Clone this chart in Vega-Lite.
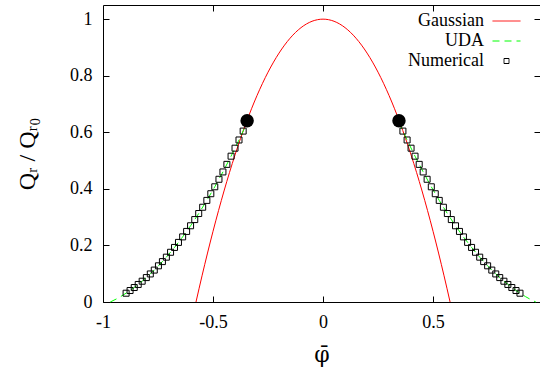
{
  "$schema": "https://vega.github.io/schema/vega-lite/v6.json",
  "width": 437,
  "height": 297,
  "autosize": {"type": "none"},
  "padding": {"left": 103, "top": 5, "right": 0, "bottom": 68},
  "background": "white",
  "config": {
    "font": "Liberation Serif",
    "view": {"stroke": "black", "strokeWidth": 1},
    "axis": {"grid": false, "domain": false, "tickColor": "black", "tickSize": -6, "labelFlush": false, "labelColor": "black", "labelFont": "Liberation Serif", "labelFontSize": 18, "labelPadding": 17, "titleFont": "Liberation Serif", "titleFontWeight": "normal", "titleColor": "black"}
  },
  "datasets": {
    "gauss": [
      {"p": -0.5774, "q": 0, "s": "Gaussian"}, {"p": -0.55, "q": 0.0925, "s": "Gaussian"}, {"p": -0.5, "q": 0.25, "s": "Gaussian"},
      {"p": -0.45, "q": 0.3925, "s": "Gaussian"}, {"p": -0.4, "q": 0.52, "s": "Gaussian"}, {"p": -0.35, "q": 0.6325, "s": "Gaussian"},
      {"p": -0.3, "q": 0.73, "s": "Gaussian"}, {"p": -0.25, "q": 0.8125, "s": "Gaussian"}, {"p": -0.2, "q": 0.88, "s": "Gaussian"},
      {"p": -0.15, "q": 0.9325, "s": "Gaussian"}, {"p": -0.1, "q": 0.97, "s": "Gaussian"}, {"p": -0.05, "q": 0.9925, "s": "Gaussian"},
      {"p": 0, "q": 1, "s": "Gaussian"},
      {"p": 0.05, "q": 0.9925, "s": "Gaussian"}, {"p": 0.1, "q": 0.97, "s": "Gaussian"}, {"p": 0.15, "q": 0.9325, "s": "Gaussian"},
      {"p": 0.2, "q": 0.88, "s": "Gaussian"}, {"p": 0.25, "q": 0.8125, "s": "Gaussian"}, {"p": 0.3, "q": 0.73, "s": "Gaussian"},
      {"p": 0.35, "q": 0.6325, "s": "Gaussian"}, {"p": 0.4, "q": 0.52, "s": "Gaussian"}, {"p": 0.45, "q": 0.3925, "s": "Gaussian"},
      {"p": 0.5, "q": 0.25, "s": "Gaussian"}, {"p": 0.55, "q": 0.0925, "s": "Gaussian"}, {"p": 0.5774, "q": 0, "s": "Gaussian"}
    ],
    "uda": [
      {"p": -0.967, "q": 0, "side": "L", "s": "UDA"}, {"p": -0.94, "q": 0.0104, "side": "L", "s": "UDA"}, {"p": -0.92, "q": 0.0191, "side": "L", "s": "UDA"},
      {"p": -0.895, "q": 0.0311, "side": "L", "s": "UDA"}, {"p": -0.858, "q": 0.0512, "side": "L", "s": "UDA"}, {"p": -0.822, "q": 0.0735, "side": "L", "s": "UDA"},
      {"p": -0.785, "q": 0.0992, "side": "L", "s": "UDA"}, {"p": -0.748, "q": 0.1279, "side": "L", "s": "UDA"}, {"p": -0.712, "q": 0.1585, "side": "L", "s": "UDA"},
      {"p": -0.675, "q": 0.1929, "side": "L", "s": "UDA"}, {"p": -0.638, "q": 0.2302, "side": "L", "s": "UDA"}, {"p": -0.602, "q": 0.2695, "side": "L", "s": "UDA"},
      {"p": -0.565, "q": 0.3128, "side": "L", "s": "UDA"}, {"p": -0.528, "q": 0.3592, "side": "L", "s": "UDA"}, {"p": -0.492, "q": 0.4073, "side": "L", "s": "UDA"},
      {"p": -0.455, "q": 0.4598, "side": "L", "s": "UDA"}, {"p": -0.418, "q": 0.5155, "side": "L", "s": "UDA"}, {"p": -0.382, "q": 0.5728, "side": "L", "s": "UDA"},
      {"p": -0.345, "q": 0.6349, "side": "L", "s": "UDA"},
      {"p": 0.345, "q": 0.6349, "side": "R", "s": "UDA"}, {"p": 0.382, "q": 0.5728, "side": "R", "s": "UDA"}, {"p": 0.418, "q": 0.5155, "side": "R", "s": "UDA"},
      {"p": 0.455, "q": 0.4598, "side": "R", "s": "UDA"}, {"p": 0.492, "q": 0.4073, "side": "R", "s": "UDA"}, {"p": 0.528, "q": 0.3592, "side": "R", "s": "UDA"},
      {"p": 0.565, "q": 0.3128, "side": "R", "s": "UDA"}, {"p": 0.602, "q": 0.2695, "side": "R", "s": "UDA"}, {"p": 0.638, "q": 0.2302, "side": "R", "s": "UDA"},
      {"p": 0.675, "q": 0.1929, "side": "R", "s": "UDA"}, {"p": 0.712, "q": 0.1585, "side": "R", "s": "UDA"}, {"p": 0.748, "q": 0.1279, "side": "R", "s": "UDA"},
      {"p": 0.785, "q": 0.0992, "side": "R", "s": "UDA"}, {"p": 0.822, "q": 0.0735, "side": "R", "s": "UDA"}, {"p": 0.858, "q": 0.0512, "side": "R", "s": "UDA"},
      {"p": 0.895, "q": 0.0311, "side": "R", "s": "UDA"}, {"p": 0.92, "q": 0.0191, "side": "R", "s": "UDA"}, {"p": 0.94, "q": 0.0104, "side": "R", "s": "UDA"},
      {"p": 0.967, "q": 0, "side": "R", "s": "UDA"}
    ],
    "num": [
      {"p": -0.895, "q": 0.0311, "s": "Numerical"}, {"p": -0.877, "q": 0.0406, "s": "Numerical"}, {"p": -0.858, "q": 0.0512, "s": "Numerical"},
      {"p": -0.84, "q": 0.062, "s": "Numerical"}, {"p": -0.822, "q": 0.0735, "s": "Numerical"}, {"p": -0.803, "q": 0.0863, "s": "Numerical"},
      {"p": -0.785, "q": 0.0992, "s": "Numerical"}, {"p": -0.767, "q": 0.1128, "s": "Numerical"}, {"p": -0.748, "q": 0.1279, "s": "Numerical"},
      {"p": -0.73, "q": 0.1428, "s": "Numerical"}, {"p": -0.712, "q": 0.1585, "s": "Numerical"}, {"p": -0.693, "q": 0.1758, "s": "Numerical"},
      {"p": -0.675, "q": 0.1929, "s": "Numerical"}, {"p": -0.657, "q": 0.2107, "s": "Numerical"}, {"p": -0.638, "q": 0.2302, "s": "Numerical"},
      {"p": -0.62, "q": 0.2495, "s": "Numerical"}, {"p": -0.602, "q": 0.2695, "s": "Numerical"}, {"p": -0.583, "q": 0.2914, "s": "Numerical"},
      {"p": -0.565, "q": 0.3128, "s": "Numerical"}, {"p": -0.547, "q": 0.335, "s": "Numerical"}, {"p": -0.528, "q": 0.3592, "s": "Numerical"},
      {"p": -0.51, "q": 0.3828, "s": "Numerical"}, {"p": -0.492, "q": 0.4073, "s": "Numerical"}, {"p": -0.473, "q": 0.4339, "s": "Numerical"},
      {"p": -0.455, "q": 0.4598, "s": "Numerical"}, {"p": -0.437, "q": 0.4866, "s": "Numerical"}, {"p": -0.418, "q": 0.5155, "s": "Numerical"},
      {"p": -0.4, "q": 0.5438, "s": "Numerical"}, {"p": -0.382, "q": 0.5728, "s": "Numerical"}, {"p": -0.363, "q": 0.6042, "s": "Numerical"},
      {"p": -0.345, "q": 0.6349, "s": "Numerical"},
      {"p": 0.345, "q": 0.6349, "s": "Numerical"}, {"p": 0.363, "q": 0.6042, "s": "Numerical"}, {"p": 0.382, "q": 0.5728, "s": "Numerical"},
      {"p": 0.4, "q": 0.5438, "s": "Numerical"}, {"p": 0.418, "q": 0.5155, "s": "Numerical"}, {"p": 0.437, "q": 0.4866, "s": "Numerical"},
      {"p": 0.455, "q": 0.4598, "s": "Numerical"}, {"p": 0.473, "q": 0.4339, "s": "Numerical"}, {"p": 0.492, "q": 0.4073, "s": "Numerical"},
      {"p": 0.51, "q": 0.3828, "s": "Numerical"}, {"p": 0.528, "q": 0.3592, "s": "Numerical"}, {"p": 0.547, "q": 0.335, "s": "Numerical"},
      {"p": 0.565, "q": 0.3128, "s": "Numerical"}, {"p": 0.583, "q": 0.2914, "s": "Numerical"}, {"p": 0.602, "q": 0.2695, "s": "Numerical"},
      {"p": 0.62, "q": 0.2495, "s": "Numerical"}, {"p": 0.638, "q": 0.2302, "s": "Numerical"}, {"p": 0.657, "q": 0.2107, "s": "Numerical"},
      {"p": 0.675, "q": 0.1929, "s": "Numerical"}, {"p": 0.693, "q": 0.1758, "s": "Numerical"}, {"p": 0.712, "q": 0.1585, "s": "Numerical"},
      {"p": 0.73, "q": 0.1428, "s": "Numerical"}, {"p": 0.748, "q": 0.1279, "s": "Numerical"}, {"p": 0.767, "q": 0.1128, "s": "Numerical"},
      {"p": 0.785, "q": 0.0992, "s": "Numerical"}, {"p": 0.803, "q": 0.0863, "s": "Numerical"}, {"p": 0.822, "q": 0.0735, "s": "Numerical"},
      {"p": 0.84, "q": 0.062, "s": "Numerical"}, {"p": 0.858, "q": 0.0512, "s": "Numerical"}, {"p": 0.877, "q": 0.0406, "s": "Numerical"},
      {"p": 0.895, "q": 0.0311, "s": "Numerical"}
    ],
    "dots": [
      {"p": -0.345, "q": 0.641}, {"p": 0.345, "q": 0.641}
    ]
  },
  "layer": [
    {
      "data": {"name": "gauss"},
      "mark": {"type": "line", "interpolate": "monotone", "strokeWidth": 1},
      "encoding": {
        "x": {"field": "p", "type": "quantitative", "scale": {"domain": [-1, 0.986], "nice": false, "zero": false},
              "axis": {"orient": "bottom", "values": [-1, -0.5, 0, 0.5], "labelExpr": "'' + datum.value", "labelFont": "Liberation Serif", "labelFlush": false,
                       "title": "φ̄", "titleFont": "DejaVu Serif", "titleFontSize": 22, "titleY": 52, "titleBaseline": "middle"}},
        "y": {"field": "q", "type": "quantitative", "scale": {"domain": [0, 1.05], "nice": false},
              "axis": {"orient": "left", "values": [0, 0.2, 0.4, 0.6, 0.8, 1], "labelExpr": "'' + datum.value", "labelFont": "Liberation Serif", "labelFlush": false,
                       "title": "Qᵣ / Qᵣ₀", "titleFont": "Liberation Serif", "titleFontSize": 24, "titleX": -76, "titleBaseline": "middle"}},
        "color": {"field": "s", "type": "nominal",
                  "scale": {"domain": ["Gaussian", "UDA", "Numerical"], "range": ["#ff0000", "#00ff00", "#000000"]},
                  "legend": {"orient": "none", "legendX": 393, "legendY": 5.5, "title": null, "padding": 0,
                             "labelFont": "Liberation Serif", "labelFontSize": 18, "labelColor": "black", "labelAlign": "right",
                             "labelOffset": -33, "symbolType": "stroke", "symbolSize": 400, "symbolStrokeWidth": 1, "symbolOffset": 0, "rowPadding": 0,
                             "encode": {"symbols": {"update": {
                               "shape": {"signal": "datum.value === 'Numerical' ? 'square' : 'M-1.4,0L1.4,0'"},
                               "size": {"signal": "datum.value === 'Numerical' ? 25 : 400"},
                               "strokeDash": {"signal": "datum.value === 'UDA' ? [7, 5] : [1, 0]"},
                               "stroke": {"scale": "color", "field": "value"},
                               "fill": {"value": "transparent"},
                               "strokeWidth": {"value": 1},
                               "opacity": {"value": 1}
                             }}}}}
      }
    },
    {
      "data": {"name": "uda"},
      "mark": {"type": "line", "strokeWidth": 1, "strokeDash": [7, 5]},
      "encoding": {
        "x": {"field": "p", "type": "quantitative", "axis": null},
        "y": {"field": "q", "type": "quantitative", "axis": null},
        "detail": {"field": "side", "type": "nominal"},
        "color": {"field": "s", "type": "nominal"}
      }
    },
    {
      "data": {"name": "num"},
      "mark": {"type": "point", "shape": "square", "filled": false, "size": 36, "strokeWidth": 1, "opacity": 1},
      "encoding": {
        "x": {"field": "p", "type": "quantitative", "axis": null},
        "y": {"field": "q", "type": "quantitative", "axis": null},
        "color": {"field": "s", "type": "nominal"}
      }
    },
    {
      "data": {"name": "dots"},
      "mark": {"type": "circle", "size": 180, "color": "black", "opacity": 1},
      "encoding": {
        "x": {"field": "p", "type": "quantitative", "axis": {"orient": "top", "labels": false, "title": null, "values": [-0.5, 0, 0.5]}},
        "y": {"field": "q", "type": "quantitative", "axis": {"orient": "right", "labels": false, "title": null, "values": [0.2, 0.4, 0.6, 0.8, 1]}}
      }
    },
    {
      "mark": {"type": "text", "text": "CDW", "font": "Liberation Serif", "fontSize": 23, "color": "black", "baseline": "middle", "align": "center"},
      "encoding": {
        "x": {"datum": 0, "type": "quantitative", "axis": null},
        "y": {"datum": 0.405, "type": "quantitative", "axis": null}
      }
    }
  ],
  "resolve": {"axis": {"x": "independent", "y": "independent"}}
}
